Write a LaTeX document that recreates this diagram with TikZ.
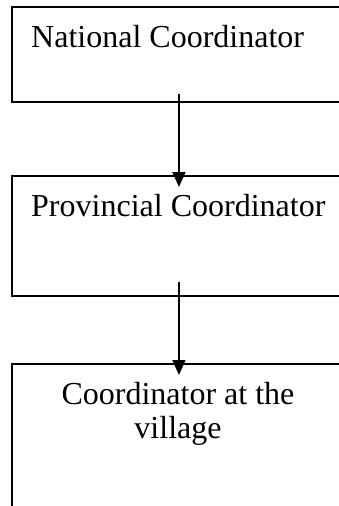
\documentclass[tikz,border=0pt]{standalone}
\usepackage{fontspec}
\setmainfont{Liberation Serif}
\usetikzlibrary{arrows.meta}
\begin{document}
\begin{tikzpicture}[x=1pt,y=-1pt,
  box/.style={draw, line width=1.9pt, rectangle, inner sep=0pt, anchor=north west},
  lbl/.style={font=\fontsize{32}{34}\selectfont, inner sep=0pt},
  arr/.style={line width=1.6pt, -{Triangle[length=15pt,width=13pt]}}]
\useasboundingbox (0,0) rectangle (339,506);
\clip (0,0) rectangle (339,506);
\node[box, minimum width=334pt, minimum height=95pt] (b1) at (11,6) {};
\node[box, minimum width=334pt, minimum height=120pt] (b2) at (11,175) {};
\node[box, minimum width=334pt, minimum height=170pt] (b3) at (11,363) {};
\node[lbl, anchor=base west] (t1) at (31,47) {National Coordinator};
\node[lbl, anchor=base west] (t2) at (31,216) {Provincial Coordinator};
\node[lbl, anchor=base, align=center] (t3) at (178,438) {Coordinator at the\\village};
\coordinate (a1s) at ([yshift=9pt]b1.south);
\coordinate (a1e) at ([yshift=-12pt]b2.north);
\coordinate (a2s) at ([yshift=15pt]b2.south);
\coordinate (a2e) at ([yshift=-12pt]b3.north);
\draw[arr] (a1s) -- (a1e);
\draw[arr] (a2s) -- (a2e);
\end{tikzpicture}
\end{document}
